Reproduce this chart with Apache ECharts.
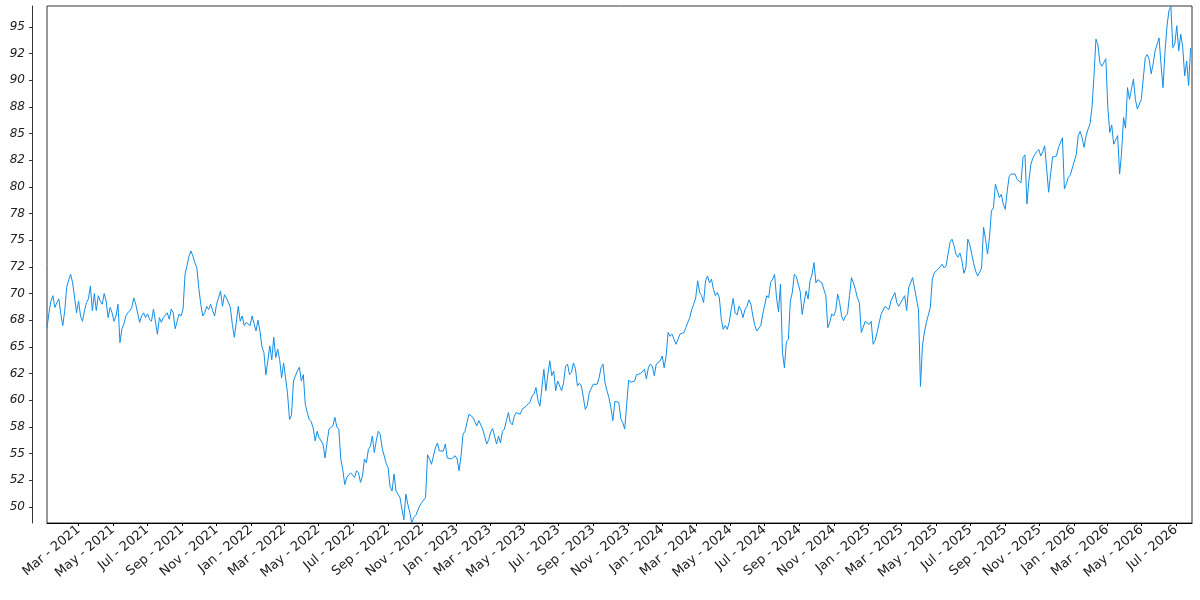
<!DOCTYPE html>
<html>
<head>
<meta charset="utf-8">
<script src="https://cdn.jsdelivr.net/npm/echarts@6/dist/echarts.min.js"></script>
<style>html,body{margin:0;padding:0;background:#fff}#c{width:1200px;height:600px}</style>
</head>
<body>
<div id="c"></div>
<script>
// sampling: twice-weekly observations starting 2021-01-04
const startDate = [2021, 0, 4];
const stepDays = 3.5;

const values2021 = [66.8,68.2,69.3,69.8,68.7,69.15,69.5,68.1,67.0,68.4,
70.6,71.3,71.8,71.0,71.0,68.2,69.3,67.9,67.4,68.4,
69.15,69.5,70.7,68.4,70.0,68.4,69.8,69.3,69.0,70.0,
69.3,67.75,68.7,68.2,67.4,67.9,69.0,65.4,66.7,67.15,
67.9,68.2,68.4,68.7,69.6,69.0,68.9,67.3,67.9,68.2,
67.75,68.1,67.6,67.4,68.55,68.7,66.2,67.75,67.3,67.75,
67.6,68.2,67.6,68.55,68.2,66.7,67.4,68.1,67.9,68.55,
71.8,72.6,73.5,74.0,73.5,72.9,72.4,70.5];

const values2022a = [69.0,67.9,68.2,68.8,68.5,69.0,68.4,67.9,69.0,69.6,
70.25,68.8,69.9,69.6,69.6,68.7,67.1,65.9,67.3,68.8,
67.4,67.9,67.0,67.3,67.4,67.0,67.9,67.2,66.5,67.5,
66.5,65.0,64.5,62.4,63.7,65.1,63.8,65.9,64.0,64.8,
63.8,62.1,63.5,62.1,60.6,58.2,58.6,61.8,62.3,62.75,
63.1,61.8,62.4,59.6,58.85,58.2,58.0,57.4,56.2,57.1,
56.5,56.5,55.9,54.6,56.0,57.3,57.4,57.6,58.4,57.5];

const values2022b = [57.3,54.5,53.5,52.1,52.75,53.0,53.2,53.0,52.75,53.4,
53.2,52.3,52.9,54.5,54.15,55.4,55.7,56.65,55.1,56.2,
57.1,56.8,55.5,55.4,54.1,53.7,51.9,51.5,53.1,51.5,
51.6,50.9,49.8,48.8,51.2,50.25,49.5,48.5,49.0,49.2,
49.3,50.1,50.4,50.55,50.9,54.9,54.5,54.0,54.8,55.55,
56.0,55.25,55.2,55.25,55.9,54.6,54.5,54.5,54.6,54.8,
54.5,53.4,54.8,56.8,57.1,57.9,58.7,58.85,58.4,58.5,
57.6,58.1];

const values2023 = [58.0,57.3,56.6,55.9,56.3,57.0,57.35,56.65,55.9,56.65,
56.0,57.1,57.3,58.1,58.85,57.9,57.7,58.5,58.85,59.0,
58.7,59.15,59.0,59.45,59.3,59.85,60.4,60.6,61.2,60.0,
59.45,61.2,62.9,60.9,62.4,63.7,62.3,62.75,60.9,61.8,
61.65,60.9,61.65,63.2,63.4,62.4,62.6,63.5,63.0,61.35,
61.6,61.35,60.3,59.15,59.5,60.7,60.8,61.5,61.65,61.5,
62.1,63.05,63.4,61.65,60.9,60.25,59.3,58.1,59.9,59.9,
59.8,58.3,57.9,57.3,59.6,61.9];

const values2024 = [61.7,61.6,61.8,62.4,62.4,62.5,62.6,62.9,62.0,63.05,
63.4,63.2,62.3,63.4,63.55,63.7,64.15,63.05,64.15,66.35,
66.0,66.2,66.35,65.25,65.7,66.2,66.2,66.35,66.8,67.3,
67.75,68.5,69.0,69.6,71.2,70.1,69.8,69.15,71.2,71.65,
71.0,71.35,70.4,69.8,70.1,69.6,67.6,66.65,67.0,66.65,
67.3,68.5,69.55,68.2,68.0,68.8,68.45,67.75,68.5,68.8,
69.4,69.0,67.9,67.0,66.5,66.35,67.0,68.05,67.9,69.8,
69.6,71.05,71.35,71.8,69.6,68.3];

const values2025a = [70.9,64.5,63.05,65.5,65.7,69.3,70.1,71.8,71.6,71.5,
70.2,68.05,69.2,70.25,69.5,71.2,71.8,72.9,71.0,71.3,
71.35,71.0,70.4,69.8,66.8,67.3,68.1,67.9,68.4,69.95,
69.15,67.9,67.45,67.9,68.1,69.8,71.5,71.0,70.4,69.6,
69.15,66.35,66.5,67.4,67.3,67.1,67.4,65.25,65.6,66.35,
67.2,68.05,68.1,68.8,68.7,68.5,69.3,69.15,70.1,69.15,
68.8,68.7,69.5,69.8,68.4,70.55,71.0,71.5,71.35,69.5,
68.5,61.3,65.1,66.4,67.3,68.0];

const values2025b = [68.7,71.35,71.95,72.1,72.3,72.4,72.75,72.4,72.6,73.7,
74.8,75.1,74.5,73.7,73.4,73.8,73.1,71.9,72.4,75.1,
74.6,73.7,72.8,72.1,71.65,72.0,72.4,76.2,75.1,73.7,
75.25,77.75,78.05,80.25,80.1,79.0,79.3,78.4,77.9,79.6,
81.0,81.2,81.35,81.2,80.7,80.55,80.4,82.75,83.0,78.4,
80.6,82.1,82.7,83.05,83.3,83.5,82.9,83.3,83.85,84.0,
79.5,81.2,82.8,82.75,82.9,83.7,83.6,84.6,79.8,80.3,
80.9,81.1,81.0,82.4];

const values2026 = [83.0,84.8,85.2,84.6,83.7,84.8,85.4,85.9,87.45,90.4,
93.85,93.3,91.65,91.3,91.35,92.0,87.5,85.1,85.8,84.0,
84.0,84.8,81.2,83.2,86.5,85.5,89.3,88.2,89.15,90.1,
88.2,87.3,87.2,88.2,88.05,92.1,92.4,91.95,90.6,91.5,
92.75,92.9,93.95,91.5,89.3,92.6,95.0,96.5,96.9,93.05,
93.4,95.1,92.75,94.3,93.1,90.4,91.8,89.5,93.0];

const yTickValues = [50,52.5,55,57.5,60,62.5,65,67.5,70,72.5,75,77.5,80,82.5,85,87.5,90,92.5,95];
const yTickLabels = ['50','52','55','58','60','62','65','68','70','72','75','78','80','82','85','88','90','92','95'];
const xTickMonths = ['2021-03','2021-05','2021-07','2021-09','2021-11','2022-01','2022-03','2022-05','2022-07','2022-09','2022-11',
'2023-01','2023-03','2023-05','2023-07','2023-09','2023-11','2024-01','2024-03','2024-05','2024-07','2024-09','2024-11',
'2025-01','2025-03','2025-05','2025-07','2025-09','2025-11','2026-01','2026-03','2026-05','2026-07'];
const monthNames = ['Jan','Feb','Mar','Apr','May','Jun','Jul','Aug','Sep','Oct','Nov','Dec'];

const DAY = 86400000;
const t0 = Date.UTC(startDate[0], startDate[1], startDate[2]);
const allValues = [].concat(values2021, values2022a, values2022b, values2023, values2024, values2025a, values2025b, values2026);
const seriesData = allValues.map((v, i) => [t0 + i * stepDays * DAY, v]);
const xTickVals = xTickMonths.map(s => { const p = s.split('-'); return Date.UTC(+p[0], +p[1] - 1, 1); });

const chart = echarts.init(document.getElementById('c'), null, {renderer: 'canvas'});
chart.setOption({
  animation: false,
  backgroundColor: '#fff',
  grid: {left: 47, right: 8, top: 6, bottom: 77, containLabel: false, outerBoundsMode: 'none',
         show: true, borderColor: '#333', borderWidth: 1, backgroundColor: 'transparent'},
  xAxis: {
    type: 'value',
    min: t0, max: t0 + 2032.5 * DAY,
    axisLine: {show: true, lineStyle: {color: '#000', width: 1}},
    axisTick: {show: true, customValues: xTickVals, length: 3, lineStyle: {color: '#000'}},
    axisLabel: {
      customValues: xTickVals, rotate: 40, margin: 5,
      fontFamily: 'DejaVu Sans', fontSize: 13, color: '#222',
      formatter: v => { const d = new Date(v); return monthNames[d.getUTCMonth()] + ' - ' + d.getUTCFullYear(); }
    },
    splitLine: {show: false}
  },
  yAxis: {
    type: 'value',
    min: 48.5, max: 96.95, offset: 15,
    axisLine: {show: true, lineStyle: {color: '#333', width: 1}},
    axisTick: {show: true, customValues: yTickValues, length: 3, lineStyle: {color: '#333'}},
    axisLabel: {
      customValues: yTickValues, margin: 7,
      fontFamily: 'DejaVu Sans', fontSize: 12, fontStyle: 'italic', color: '#222',
      formatter: v => { const k = yTickValues.indexOf(v); return k >= 0 ? yTickLabels[k] : ''; }
    },
    splitLine: {show: false}
  },
  series: [{
    type: 'line', data: seriesData, symbol: 'none', showSymbol: false, silent: true,
    sampling: undefined,
    lineStyle: {width: 1, color: '#118ee8'}
  }]
});
</script>
</body>
</html>
